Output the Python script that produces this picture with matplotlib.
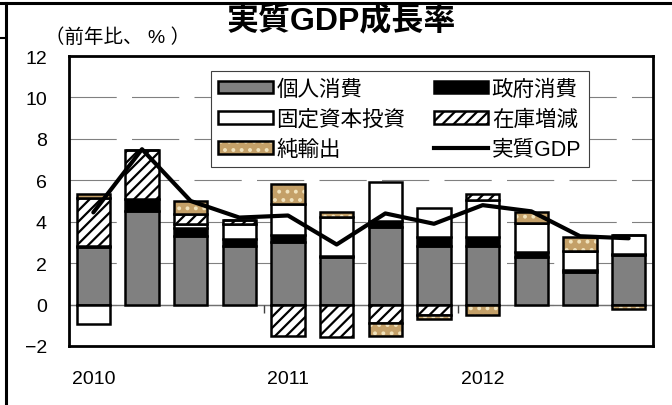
import numpy as np
import matplotlib
matplotlib.use("Agg")
import matplotlib.pyplot as plt
import matplotlib.patches as mpatches
from matplotlib.lines import Line2D
from matplotlib.legend_handler import HandlerTuple

plt.rcParams['font.family'] = ['Liberation Sans', 'Noto Sans CJK JP', 'DejaVu Sans']
plt.rcParams['lines.scale_dashes'] = False
plt.rcParams['hatch.linewidth'] = 1.6

# quarterly contributions to real GDP growth (yoy, %)
quarters = ["2010Q1", "2010Q2", "2010Q3", "2010Q4",
            "2011Q1", "2011Q2", "2011Q3", "2011Q4",
            "2012Q1", "2012Q2", "2012Q3", "2012Q4"]
year_labels = ["2010", "2011", "2012"]
year_pos = [0, 4, 8]

personal = [2.8, 4.5, 3.3, 2.85, 3.0, 2.3, 3.75, 2.85, 2.85, 2.3, 1.55, 2.4]
government = [0.05, 0.6, 0.4, 0.3, 0.35, 0.05, 0.3, 0.4, 0.4, 0.25, 0.1, 0.05]
fixed_inv = [-0.95, 0.0, 0.2, 0.75, 1.5, 1.9, 1.85, 1.4, 1.8, 1.4, 0.95, 0.9]
inventory = [2.3, 2.35, 0.45, 0.2, -1.5, -1.55, -0.9, -0.5, 0.3, 0.0, 0.0, 0.0]
net_exports = [0.2, 0.0, 0.65, 0.0, 0.95, 0.2, -0.6, -0.2, -0.5, 0.5, 0.65, -0.2]
real_gdp = [4.45, 7.5, 5.0, 4.2, 4.3, 2.9, 4.4, 3.9, 4.8, 4.5, 3.3, 3.2]

names = ["個人消費", "政府消費", "固定資本投資", "在庫増減", "純輸出", "実質GDP"]

TAN = "#c4a068"
CREAM = "#f1e3bd"
EDGE_LW = 1.8
W = 0.68

fig = plt.figure(figsize=(6.72, 4.06), dpi=100)
ax = fig.add_axes([69 / 672, 1 - 347 / 406, 584 / 672, 290 / 406])

x = np.arange(len(quarters))
pos = np.zeros(len(x))
neg = np.zeros(len(x))


def stack(vals, **kw):
    global pos, neg
    v = np.array(vals, dtype=float)
    bottom = np.where(v >= 0, pos, neg)
    bars = ax.bar(x, v, W, bottom=bottom, **kw)
    pos = pos + np.clip(v, 0, None)
    neg = neg + np.clip(v, None, 0)
    return bars, bottom, v


stack(personal, color="#808080", edgecolor="black", linewidth=EDGE_LW, zorder=2)
stack(government, color="black", edgecolor="black", linewidth=EDGE_LW, zorder=2)
stack(fixed_inv, color="white", edgecolor="black", linewidth=EDGE_LW, zorder=2)
stack(inventory, color="white", edgecolor="black", hatch="///",
      linewidth=EDGE_LW, zorder=2)
_, nb, nv = stack(net_exports, color=TAN, edgecolor=CREAM, hatch="..",
                  linewidth=0, zorder=2)
ax.bar(x, nv, W, bottom=nb, fill=False, edgecolor="black",
       linewidth=EDGE_LW, zorder=2.1)

ax.plot(x, real_gdp, color="black", lw=3, zorder=5, solid_capstyle="round")

# zero line and year separators
ax.axhline(0, color="#707070", lw=1, zorder=1)
ax.vlines([3.5, 7.5], -0.4, 0, color="#404040", lw=1, zorder=1)

ax.set_xlim(-0.5, 11.5)
ax.set_ylim(-2, 12)
ax.set_yticks(range(-2, 13, 2))
ax.set_xticks(year_pos)
ax.set_xticklabels(year_labels)
ax.tick_params(axis="both", length=0, labelsize=14)
ax.tick_params(axis="y", pad=16)
ax.tick_params(axis="x", pad=17)
ax.set_axisbelow(True)
ax.yaxis.grid(True, color="#808080", lw=0.8, linestyle=(0, (34, 11)))
for sp in ax.spines.values():
    sp.set_linewidth(2)
    sp.set_color("black")

# legend
h_pc = mpatches.Patch(facecolor="#808080", edgecolor="black", lw=EDGE_LW)
h_gov = mpatches.Patch(facecolor="black", edgecolor="black", lw=EDGE_LW)
h_fix = mpatches.Patch(facecolor="white", edgecolor="black", lw=EDGE_LW)
h_inv = mpatches.Patch(facecolor="white", edgecolor="black", hatch="///", lw=EDGE_LW)
h_nx = (mpatches.Patch(facecolor=TAN, edgecolor=CREAM, hatch="..", lw=0),
        mpatches.Patch(fill=False, edgecolor="black", lw=EDGE_LW))
h_gdp = Line2D([], [], color="black", lw=3)
handles = [h_pc, h_fix, h_nx, h_gov, h_inv, h_gdp]
labels = [names[0], names[2], names[4], names[1], names[3], names[5]]
leg = ax.legend(handles, labels, ncol=2, loc="upper left",
                bbox_to_anchor=(0.243, 0.948), borderaxespad=0,
                fontsize=15.5, handlelength=2.55, handleheight=0.55,
                handletextpad=0.15, labelspacing=0.42, borderpad=0.35,
                columnspacing=1.3, fancybox=False, framealpha=1,
                edgecolor="#404040",
                handler_map={tuple: HandlerTuple(ndivide=1)})
leg.get_frame().set_linewidth(0.8)

fig.text(341 / 672, 1 - 21 / 406, "実質GDP成長率", ha="center", va="center",
         fontsize=23, fontweight="bold")
fig.text(45 / 672, 1 - 38 / 406, "（前年比、 % ）", ha="left", va="center",
         fontsize=14)

# outer frame
fig.add_artist(Line2D([0, 1], [1 - 3.5 / 406] * 2, color="black", lw=2.2,
                      transform=fig.transFigure))
fig.add_artist(Line2D([5.5 / 672] * 2, [0, 1 - 3.5 / 406], color="black", lw=2.2,
                      transform=fig.transFigure))
fig.add_artist(Line2D([0, 5.5 / 672], [1 - 39 / 406] * 2, color="black", lw=1.5,
                      transform=fig.transFigure))

fig.savefig("out.png", dpi=100)
